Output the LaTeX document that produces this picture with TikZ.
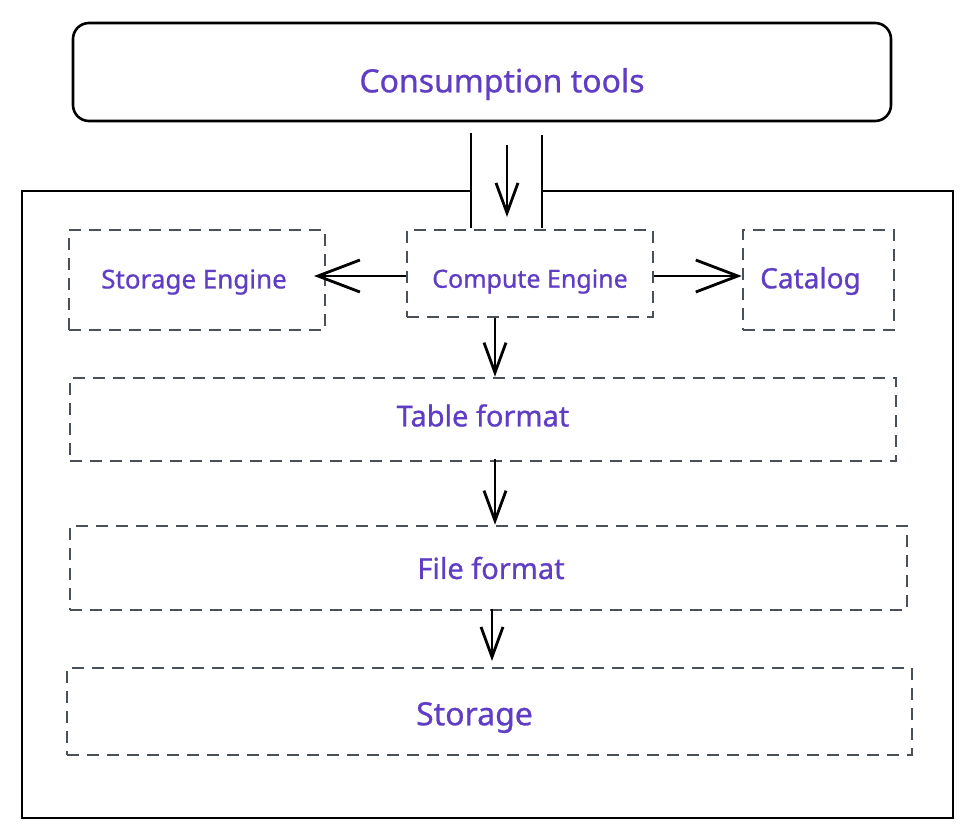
\documentclass[tikz,border=0pt]{standalone}
\usepackage{fontspec}
\setmainfont{Noto Sans}[FakeBold=0.8]
\usetikzlibrary{arrows.meta}
\definecolor{txtpurple}{HTML}{5F3DC4}
\definecolor{dashgray}{HTML}{495057}
\newcommand\shifttxt[3]{\raisebox{-#2}[\height][\depth]{\hspace*{#1}#3}}
\tikzset{
  solidline/.style={draw=black, line width=2.6pt},
  dashbox/.style={draw=dashgray, line width=2.6pt, dash pattern=on 12pt off 8pt, rectangle, inner sep=0pt, text=txtpurple},
  topbox/.style={draw=black, line width=2.6pt, rounded corners=16pt, rectangle, inner sep=0pt, text=txtpurple},
  harrow/.style={draw=black, line width=2.8pt, -{Straight Barb[length=42pt,width=32pt,line width=2.8pt]}},
  varrow/.style={draw=black, line width=2.8pt, -{Straight Barb[length=30pt,width=22pt,line width=2.8pt]}},
  fs/.style={font=\fontsize{#1}{#1}\selectfont},
}
\begin{document}
\begin{tikzpicture}[x=1pt,y=-1pt]
\useasboundingbox (0,0) rectangle (972,836);
% top box
\node[topbox, fs=32, minimum width=818pt, minimum height=98pt] (CT) at (482,72) {\shifttxt{40pt}{12pt}{Consumption tools}};
% outer frame
\coordinate (f1) at (471,191);
\coordinate (f2) at (22,191);
\coordinate (f3) at (22,818);
\coordinate (f4) at (953,818);
\coordinate (f5) at (953,191);
\coordinate (f6) at (543,191);
\draw[solidline] (f1) -- (f2) -- (f3) -- (f4) -- (f5) -- (f6);
% channel lines
\coordinate (c1a) at (471,133);
\coordinate (c1b) at (471,228);
\coordinate (c2a) at (542,135);
\coordinate (c2b) at (542,228);
\draw[solidline] (c1a) -- (c1b);
\draw[solidline] (c2a) -- (c2b);
% boxes
\node[dashbox, fs=26, minimum width=256pt, minimum height=100pt] (SE) at (197,280) {\shifttxt{-6pt}{2pt}{Storage Engine}};
\node[dashbox, fs=25, minimum width=246pt, minimum height=87pt] (CE) at (530,273.5) {\shifttxt{0pt}{8pt}{Compute Engine}};
\node[dashbox, fs=28, minimum width=151pt, minimum height=100pt] (CA) at (818.5,280) {\shifttxt{-16pt}{1pt}{Catalog}};
\node[dashbox, fs=29, minimum width=826pt, minimum height=83pt] (TF) at (483,419.5) {\shifttxt{0pt}{-4pt}{Table format}};
\node[dashbox, fs=29, minimum width=837pt, minimum height=84pt] (FF) at (488.5,568) {\shifttxt{5pt}{0pt}{File format}};
\node[dashbox, fs=32, minimum width=845pt, minimum height=87pt] (ST) at (489.5,711.5) {\shifttxt{-30pt}{6pt}{Storage}};
% arrows
\coordinate (a0s) at (507,145);
\coordinate (a0e) at (507,217);
\draw[varrow] (a0s) -- (a0e);
\coordinate (ycE) at (0,276);
\coordinate (seTip) at (314,276);
\draw[harrow] (CE.west |- ycE) -- (seTip);
\draw[harrow] (CE.east |- ycE) -- (CA.west |- ycE);
\coordinate (colx) at (495,0);
\draw[varrow] (CE.south -| colx) -- (TF.north -| colx);
\draw[varrow] ([yshift=3pt]TF.south -| colx) -- (FF.north -| colx);
\coordinate (colx2) at (492,0);
\coordinate (stTip) at (492,661);
\draw[varrow] ([yshift=2pt]FF.south -| colx2) -- (stTip);
\end{tikzpicture}
\end{document}
